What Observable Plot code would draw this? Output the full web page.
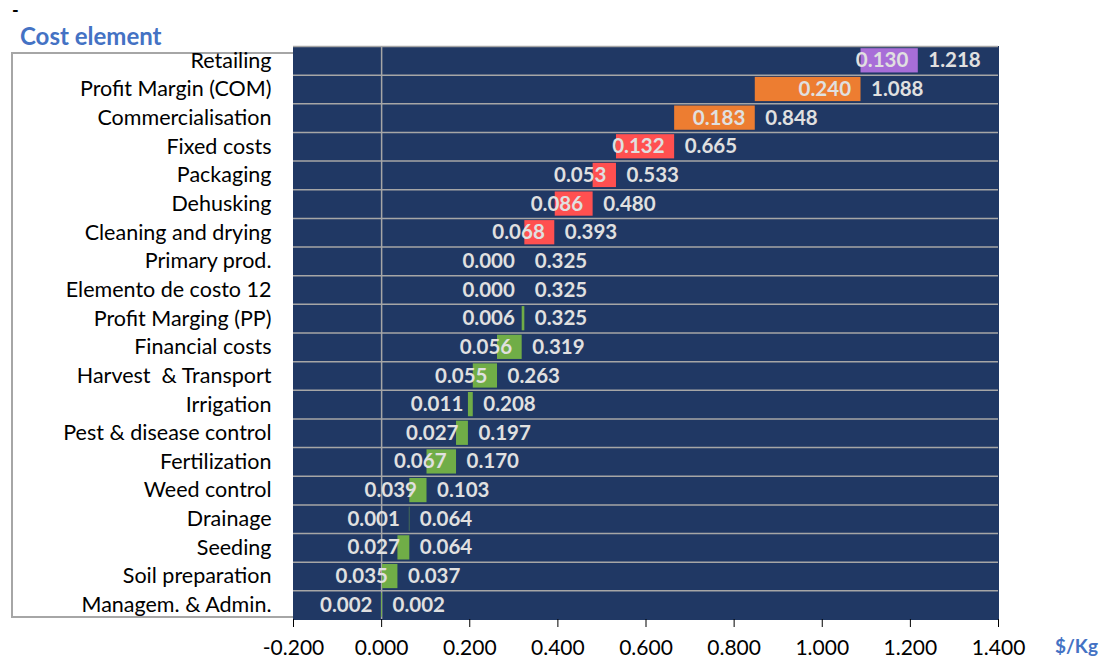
<!DOCTYPE html>
<html>
<head>
<meta charset="utf-8">
<script src="https://cdn.jsdelivr.net/npm/d3@7"></script>
<script src="https://cdn.jsdelivr.net/npm/@observablehq/plot@0.6"></script>
<style>
  html, body { margin: 0; padding: 0; background: #fff; }
  #wrap { position: relative; width: 1101px; height: 659px; font-family: Lato, "Open Sans", sans-serif; }
  #dash { position: absolute; left: 12px; top: 1px; font-size: 18px; line-height: 18px; font-weight: bold; color: #000; }
  #title { position: absolute; left: 20px; top: 21px; font-size: 24px; line-height: 30px; font-weight: bold; color: #4472C4; }
  #unit { position: absolute; left: 1055px; top: 634px; font-size: 19px; font-weight: bold; color: #4472C4; }
  #box { position: absolute; left: 11px; top: 52px; width: 290px; height: 566px; border: 2px solid #A6A6A6; box-sizing: border-box; }
  #chart { position: absolute; left: 0; top: 0; line-height: 0; }
</style>
</head>
<body>
<div id="wrap">
  <div id="box"></div>
  <div id="chart"></div>
  <div id="dash">-</div>
  <div id="title">Cost element</div>
  <div id="unit">$/Kg</div>
</div>
<script>
const categories = [
  "Managem. & Admin.", "Soil preparation", "Seeding", "Drainage", "Weed control",
  "Fertilization", "Pest & disease control", "Irrigation", "Harvest  & Transport",
  "Financial costs", "Profit Marging (PP)", "Elemento de costo 12", "Primary prod.",
  "Cleaning and drying", "Dehusking", "Packaging", "Fixed costs",
  "Commercialisation", "Profit Margin (COM)", "Retailing"
];
const costs = [0.002, 0.035, 0.027, 0.001, 0.039, 0.067, 0.027, 0.011, 0.055, 0.056,
  0.006, 0.000, 0.000, 0.068, 0.086, 0.053, 0.132, 0.183, 0.240, 0.130];
const cumulative = [0.002, 0.037, 0.064, 0.064, 0.103, 0.170, 0.197, 0.208, 0.263, 0.319,
  0.325, 0.325, 0.325, 0.393, 0.480, 0.533, 0.665, 0.848, 1.088, 1.218];
const stages = ["Primary", "Primary", "Primary", "Primary", "Primary", "Primary", "Primary",
  "Primary", "Primary", "Primary", "Primary", "Primary", "Primary",
  "Processing", "Processing", "Processing", "Processing",
  "Commercial", "Commercial", "Retail"];
const stageNames = ["Primary", "Processing", "Commercial", "Retail"];
const stageColors = ["#70AD47", "#FF5050", "#ED7D31", "#A86ED8"];
const xDomain = [-0.2, 1.4];
const xTicks = [-0.2, 0, 0.2, 0.4, 0.6, 0.8, 1.0, 1.2, 1.4];

const data = categories.map((c, i) => ({
  category: c,
  cost: costs[i],
  end: cumulative[i],
  start: cumulative[i] - costs[i],
  stage: stages[i]
}));

const fmt = v => v.toFixed(3);
const W = 1101, H = 659, mTop = 46, mBottom = 40;
const bw = (H - mTop - mBottom) / categories.length;

const chart = Plot.plot({
  width: W,
  height: H,
  marginTop: mTop,
  marginBottom: mBottom,
  marginLeft: 293,
  marginRight: 103,
  style: { fontFamily: "Lato, 'Open Sans', sans-serif", color: "#000", background: "transparent", overflow: "visible" },
  x: { domain: xDomain },
  y: { domain: categories.slice().reverse(), padding: 0, round: false },
  color: { domain: stageNames, range: stageColors },
  marks: [
    Plot.frame({ fill: "#203864", stroke: "#203864" }),
    Plot.ruleY(categories, { y: d => d, dy: -bw / 2, stroke: "#A6A6A6", strokeWidth: 1.5 }),
    Plot.ruleX([0], { stroke: "#A6A6A6", strokeWidth: 1.5 }),
    Plot.barX(data, {
      x1: "start", x2: "end", y: "category", fill: "stage",
      insetTop: 2.2, insetBottom: 2.2
    }),
    Plot.text(data, {
      x: "end", y: "category", text: d => fmt(d.cost), textAnchor: "end", dx: -10,
      fill: "#E0E0E0", fontWeight: "bold", fontSize: 20.5
    }),
    Plot.text(data, {
      x: "end", y: "category", text: d => fmt(d.end), textAnchor: "start", dx: 10,
      fill: "#E0E0E0", fontWeight: "bold", fontSize: 20.5
    }),
    Plot.axisY({ tickSize: 0, tickPadding: 22, fontSize: 21.5, label: null }),
    Plot.axisX({ ticks: xTicks, tickFormat: fmt, tickSize: 8, tickPadding: 13, fontSize: 21, label: null, stroke: "#000" })
  ]
});
document.getElementById("chart").appendChild(chart);
</script>
</body>
</html>
